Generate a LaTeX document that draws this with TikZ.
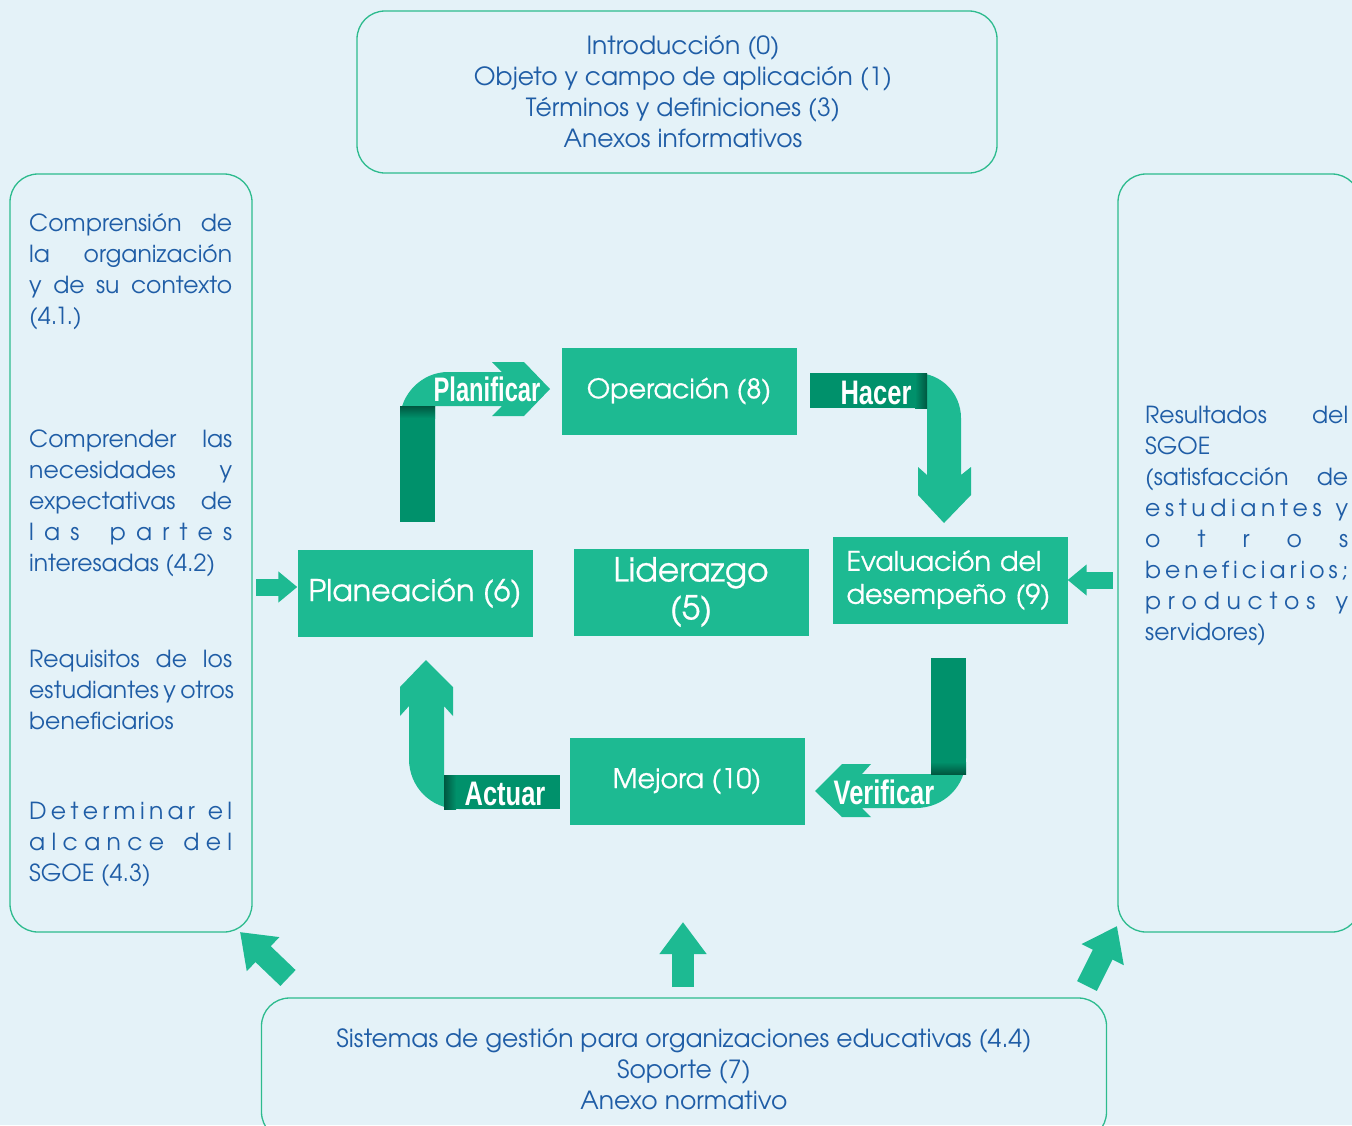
\documentclass[tikz,border=0pt]{standalone}
\usepackage{fontspec}
\setmainfont{TeX Gyre Adventor}
\newfontfamily\stepfont[FakeBold=0.7]{TeX Gyre Adventor}
\newfontfamily\ribbonfont[FakeStretch=0.75]{Liberation Sans}
\usetikzlibrary{arrows.meta}
\definecolor{PageBlue}{HTML}{E4F2F8}
\definecolor{BoxGreen}{HTML}{1DBA92}
\definecolor{RibbonDark}{HTML}{00916B}
\definecolor{TextBlue}{HTML}{1F5DA6}
\definecolor{FrameGreen}{HTML}{2DBB8E}
\newlength{\sidew}
\setlength{\sidew}{203pt}
% one justified line of a side column
\newcommand{\jl}[1]{\makebox[\sidew][s]{#1}\\}

\begin{document}
\begin{tikzpicture}[x=1pt,y=-1pt,
    frame/.style={draw=FrameGreen,line width=1.3pt,rounded corners=28pt,inner sep=0pt},
    bluetext/.style={text=TextBlue,font=\fontsize{25}{31}\selectfont,inner sep=0pt},
    sidetext/.style={bluetext,font=\fontsize{23.5}{31}\selectfont,anchor=west,align=left},
    stepbox/.style={fill=BoxGreen,text=white,minimum width=235pt,minimum height=87pt,inner sep=0pt},
    ribbon/.style={text=white,font=\ribbonfont\bfseries\fontsize{34}{34}\selectfont,inner sep=0pt},
    light/.style={fill=BoxGreen},
    dark/.style={fill=RibbonDark},
    pushsmall/.style={draw=BoxGreen,line width=17pt,-{Triangle[length=19pt,width=30pt]}},
    pushbig/.style={draw=BoxGreen,line width=22pt,-{Triangle[length=32pt,width=45pt]}}]
    \useasboundingbox (0,0) rectangle (1352,1125);
    \fill[PageBlue] (0,0) rectangle (1352,1125);

    % frames
    \node[frame,bluetext,align=center,minimum width=640pt,minimum height=162pt] (intro) at (677,92)
        {\hspace*{12pt}Introducción (0)\\\hspace*{12pt}Objeto y campo de aplicación (1)\\\hspace*{12pt}Términos y definiciones (3)\\\hspace*{12pt}Anexos informativos};
    \node[frame,minimum width=242pt,minimum height=758pt] (context) at (131,553) {};
    \node[frame,minimum width=242pt,minimum height=758pt] (results) at (1239,553) {};
    \node[frame,bluetext,align=center,minimum width=845pt,minimum height=142pt] (support) at (684,1069)
        {Sistemas de gestión para organizaciones educativas (4.4)\\Soporte (7)\\Anexo normativo};

    % left column
    \node[sidetext] (ctxA) at (29,272)
        {\jl{Comprensión de}\jl{la organización}\jl{y de su contexto}(4.1.)};
    \node[sidetext] (ctxB) at (29,503)
        {\jl{Comprender las}\jl{necesidades\hfill\hfill y}\jl{expectativas de}%
         \jl{l\hfill a\hfill s\hfill\hfill\hfill p\hfill a\hfill r\hfill t\hfill e\hfill s}interesadas (4.2)};
    \node[sidetext] (ctxC) at (29,690)
        {\jl{Requisitos de los}\jl{estudiantes y otros}beneficiarios};
    \node[sidetext] (ctxD) at (29,844)
        {\jl{D\hfill e\hfill t\hfill e\hfill r\hfill m\hfill i\hfill n\hfill a\hfill r\hfill\hfill\hfill e\hfill l}%
         \jl{a\hfill l\hfill c\hfill a\hfill n\hfill c\hfill e\hfill\hfill\hfill d\hfill e\hfill l}SGOE (4.3)};

    % right column
    \node[sidetext] (resA) at (1145,526)
        {\jl{Resultados del}SGOE\\\jl{(satisfacción de}%
         \jl{e\hfill s\hfill t\hfill u\hfill d\hfill i\hfill a\hfill n\hfill t\hfill e\hfill s\hfill\hfill\hfill y}%
         \jl{o\hfill t\hfill r\hfill o\hfill s}%
         \jl{b\hfill e\hfill n\hfill e\hfill f\hfill i\hfill c\hfill i\hfill a\hfill r\hfill i\hfill o\hfill s\hfill ;}%
         \jl{p\hfill r\hfill o\hfill d\hfill u\hfill c\hfill t\hfill o\hfill s\hfill\hfill\hfill y}servidores)};

    % steps
    \node[stepbox,font=\stepfont\fontsize{30}{30}\selectfont] (plan) at (415,593) {Planeación (6)};
    \node[stepbox,font=\stepfont\fontsize{33}{38}\selectfont,align=center] (lead) at (691,592) {Liderazgo\\(5)};
    \node[stepbox,font=\stepfont\fontsize{27}{30}\selectfont] (oper) at (679,391) {Operación (8)};
    \node[stepbox,font=\stepfont\fontsize{27}{33}\selectfont,align=left,text width=207pt] (eval) at (950,580)
        {Evaluación del\\desempeño (9)};
    \node[stepbox,font=\stepfont\fontsize{27}{30}\selectfont] (improve) at (687,781) {Mejora (10)};

    % Planificar
    \fill[light] (400,460) -- (400,420) .. controls (400,394) and (422,372) .. (448,372) -- (502,372)
        -- (492,362) -- (524,362) -- (550,389) -- (524,416) -- (492,416) -- (502,406) -- (435,406)
        -- (435,460) -- cycle;
    \fill[dark] (400,406) rectangle (435,522);
    \shade[top color=RibbonDark!60!black,bottom color=RibbonDark] (400,406) rectangle (435,418);
    \node[ribbon] (planlbl) at (487,389) {\scalebox{0.93}[1]{Planificar}};

    % Hacer
    \fill[light] (900,373) -- (916,373) .. controls (941,373) and (961,393) .. (961,418) -- (961,475)
        -- (971,467) -- (971,495) -- (944,523) -- (918,495) -- (918,467) -- (927,475) -- (927,408)
        -- (900,408) -- cycle;
    \fill[dark] (810,373) rectangle (927,408);
    \shade[left color=RibbonDark,right color=RibbonDark!60!black] (915,373) rectangle (927,408);
    \node[ribbon] (dolbl) at (876,393) {Hacer};

    % Verificar
    \fill[light] (966,730) -- (966,758) .. controls (966,786) and (944,808) .. (916,808) -- (862,808)
        -- (871,817) -- (842,817) -- (815,791) -- (842,764) -- (871,764) -- (862,774) -- (931,774)
        -- (931,730) -- cycle;
    \fill[dark] (931,658) rectangle (966,774);
    \shade[top color=RibbonDark,bottom color=RibbonDark!60!black] (931,762) rectangle (966,774);
    \node[ribbon] (checklbl) at (884,792) {Verificar};

    % Actuar
    \fill[light] (444,706) -- (453,716) -- (453,687) -- (426,660) -- (400,687) -- (400,716) -- (409,706)
        -- (409,759) .. controls (409,787) and (431,809) .. (459,809) -- (480,809) -- (480,775)
        -- (444,775) -- cycle;
    \fill[dark] (444,775) rectangle (560,809);
    \shade[left color=RibbonDark!60!black,right color=RibbonDark] (444,775) rectangle (456,809);
    \node[ribbon] (actlbl) at (505,794) {Actuar};

    % inputs and outputs
    \coordinate (inL) at (256,587);
    \coordinate (outR) at (1113,580);
    \coordinate (upL) at (288,978);
    \coordinate (upM) at (683,987);
    \coordinate (upR) at (1087,986);
    \coordinate (tipL) at (240,932);
    \coordinate (tipM) at (683,922);
    \coordinate (tipR) at (1117,926);
    \draw[pushsmall] (inL) -- (inL -| plan.west);
    \draw[pushsmall] (outR) -- (eval.east);
    \draw[pushbig] (upL) -- (tipL);
    \draw[pushbig] (upM) -- (tipM);
    \draw[pushbig] (upR) -- (tipR);
\end{tikzpicture}
\end{document}
